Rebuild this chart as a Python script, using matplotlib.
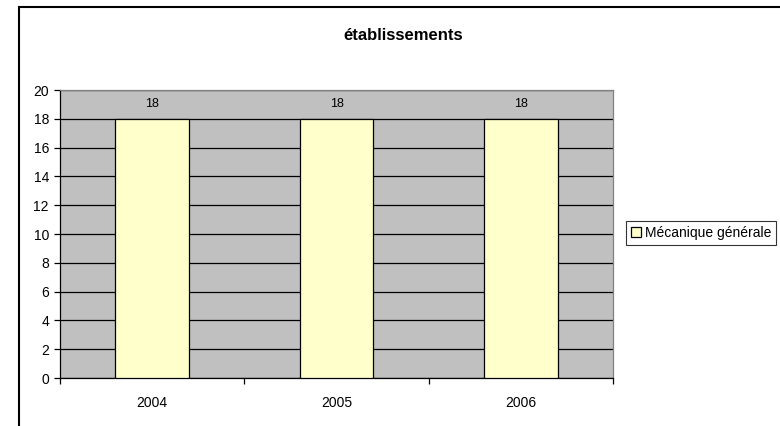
import matplotlib.pyplot as plt
from matplotlib.patches import Rectangle

annees = ['2004', '2005', '2006']
mecanique = [18, 18, 18]
serie = 'Mécanique générale'
titre = 'établissements'

plt.rcParams['font.family'] = ['Liberation Sans', 'DejaVu Sans']

fig = plt.figure(figsize=(7.8, 4.26), dpi=100)
ax = fig.add_axes([60 / 780, 1 - 378 / 426, 553 / 780, 288 / 426])
ax.set_facecolor('#C0C0C0')

pos = list(range(len(annees)))
barres = ax.bar(pos, mecanique, width=0.4, color='#FFFFCC', edgecolor='black',
                linewidth=0.9, label=serie, zorder=3)
for x, v in zip(pos, mecanique):
    ax.text(x, 19, str(v), ha='center', va='center', fontsize=9)

ax.set_xlim(-0.5, len(annees) - 0.5)
ax.set_ylim(0, 20)
ax.set_yticks(range(0, 21, 2))
ax.yaxis.grid(True, color='black', linewidth=0.9, zorder=1)
ax.set_axisbelow(True)

ax.set_xticks(pos)
ax.set_xticklabels(annees)
ax.set_xticks([p + 0.5 for p in [-1] + pos], minor=True)
ax.tick_params(axis='x', which='major', length=0, pad=13, labelsize=10)
ax.tick_params(axis='x', which='minor', length=4, width=0.9, direction='out')
ax.tick_params(axis='y', length=4, width=0.9, labelsize=10, pad=4)

for s in ['left', 'bottom']:
    ax.spines[s].set_color('black')
    ax.spines[s].set_linewidth(0.9)
for s in ['top', 'right']:
    ax.spines[s].set_color('#808080')
    ax.spines[s].set_linewidth(0.9)

fig.text(403 / 780, 1 - 35 / 426, titre, ha='center', va='center',
         fontsize=12, fontweight='bold')

leg = ax.legend(loc='center left', bbox_to_anchor=(626 / 780, 1 - 233 / 426),
                bbox_transform=fig.transFigure, fontsize=10, frameon=True,
                fancybox=False, handlelength=0.7, handleheight=0.7,
                handletextpad=0.3, borderpad=0.35, borderaxespad=0)
leg.get_frame().set_edgecolor('black')
leg.get_frame().set_linewidth(0.8)

fig.add_artist(Rectangle((19 / 780, -0.1), 1.0, 1.1 - 7 / 426,
                         transform=fig.transFigure, fill=False,
                         edgecolor='black', linewidth=1.5, clip_on=False))

fig.savefig('out.png', dpi=100)
